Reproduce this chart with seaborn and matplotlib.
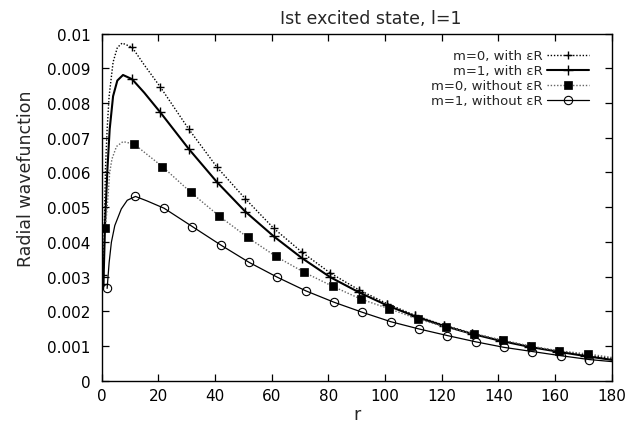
import numpy as np
import matplotlib
matplotlib.use('Agg')
import matplotlib.pyplot as plt
import seaborn as sns

# values, wavefunction in units of 1e-3
r_m0_with = [0.6, 1.3, 1.9, 2.6, 4.0, 5.5, 7.2, 10.7, 15, 20.7, 30.7, 40.7, 50.7, 60.7, 70.7,
             80.7, 90.7, 100.7, 110.7, 120.7, 130.7, 140.7, 150.7, 160.7, 170.7, 180]
v_m0_with = [3.05, 6.1, 7.25, 8.2, 9.18, 9.6, 9.73, 9.61, 9.1, 8.46, 7.25, 6.15, 5.24, 4.39, 3.70,
             3.10, 2.62, 2.22, 1.88, 1.60, 1.37, 1.17, 1.00, 0.86, 0.74, 0.64]

r_m1_with = [0.6, 1.2, 2.0, 2.8, 4.0, 5.5, 7.5, 10.7, 15, 20.7, 30.7, 40.7, 50.7, 60.7, 70.7,
             80.7, 90.7, 100.7, 110.7, 120.7, 130.7, 140.7, 150.7, 160.7, 170.7, 180]
v_m1_with = [2.8, 4.6, 6.1, 7.25, 8.2, 8.65, 8.81, 8.69, 8.3, 7.73, 6.68, 5.72, 4.87, 4.16, 3.53,
             2.98, 2.55, 2.17, 1.85, 1.58, 1.35, 1.15, 0.98, 0.84, 0.71, 0.60]
plus_marks = [0.6, 10.7, 20.7, 30.7, 40.7, 50.7, 60.7, 70.7, 80.7, 90.7,
              100.7, 110.7, 120.7, 130.7, 140.7, 150.7, 160.7, 170.7]

r_m0_without = [1.3, 2.2, 2.8, 3.6, 5.2, 7.5, 11.4, 16, 21.4, 31.4, 41.5, 51.5, 61.5, 71.5,
                81.5, 91.5, 101.5, 111.5, 121.5, 131.5, 141.5, 151.5, 161.5, 171.5, 180]
v_m0_without = [4.39, 5.3, 6.0, 6.39, 6.75, 6.89, 6.82, 6.52, 6.17, 5.43, 4.74, 4.13, 3.58, 3.12,
                2.72, 2.35, 2.07, 1.78, 1.54, 1.35, 1.17, 0.99, 0.86, 0.77, 0.67]
square_marks = [1.3, 11.4, 21.4, 31.4, 41.5, 51.5, 61.5, 71.5, 81.5, 91.5,
                101.5, 111.5, 121.5, 131.5, 141.5, 151.5, 161.5, 171.5]

r_m1_without = [1.9, 2.6, 3.4, 4.6, 6.9, 9.0, 11.9, 16, 22, 32, 42, 52, 62, 72,
                82, 92, 102, 112, 122, 132, 142, 152, 162, 172, 180]
v_m1_without = [2.66, 3.4, 3.99, 4.47, 4.95, 5.2, 5.31, 5.18, 4.97, 4.44, 3.91, 3.41, 2.98, 2.59,
                2.26, 1.97, 1.70, 1.49, 1.30, 1.12, 0.96, 0.84, 0.72, 0.61, 0.55]
circle_marks = [1.9, 11.9, 22, 32, 42, 52, 62, 72, 82, 92, 102, 112, 122, 132, 142, 152, 162, 172]

labels = ['m=0, with εR', 'm=1, with εR', 'm=0, without εR', 'm=1, without εR']
x_ticks = [0, 20, 40, 60, 80, 100, 120, 140, 160, 180]
y_ticks = [0, 0.001, 0.002, 0.003, 0.004, 0.005, 0.006, 0.007, 0.008, 0.009, 0.01]
y_tick_labels = ['0', '0.001', '0.002', '0.003', '0.004', '0.005', '0.006',
                 '0.007', '0.008', '0.009', '0.01']

sns.set_style('ticks')
plt.rcParams['font.family'] = ['DejaVu Sans']

fig = plt.figure(figsize=(6.44, 4.31), dpi=100)
ax = fig.add_axes([0.158, 0.1144, 0.792, 0.8051])

series = [
    (r_m0_with, v_m0_with, plus_marks,
     dict(color='black', lw=1.0, ls=(0, (1, 1.3)), marker='+', ms=6, mew=1.0,
          mec='black')),
    (r_m1_with, v_m1_with, plus_marks,
     dict(color='black', lw=1.5, ls='-', marker='+', ms=7.5, mew=1.0, mec='black')),
    (r_m0_without, v_m0_without, square_marks,
     dict(color='#666666', lw=1.0, ls=(0, (1, 1.3)), marker='s', ms=6,
          mfc='black', mec='black', mew=0.5)),
    (r_m1_without, v_m1_without, circle_marks,
     dict(color='black', lw=0.9, ls='-', marker='o', ms=6, mfc='none', mew=0.8,
          mec='black')),
]

for (r, v, marks, style), lab in zip(series, labels):
    r = np.array(r)
    idx = list(np.where(np.isin(r, marks))[0])
    sns.lineplot(x=r, y=np.array(v) * 1e-3, ax=ax, sort=False, estimator=None,
                 errorbar=None, label=lab, markevery=idx, **style)

ax.set_xlim(0, 180)
ax.set_ylim(0, 0.01)
ax.set_xticks(x_ticks)
ax.set_yticks(y_ticks)
ax.set_yticklabels(y_tick_labels)
ax.tick_params(direction='in', length=5, width=0.9, top=True, right=True,
               labelsize=11, colors='black')
ax.tick_params(axis='y', pad=8)
ax.tick_params(axis='x', pad=5)
for s in ax.spines.values():
    s.set_visible(True)
    s.set_linewidth(1.0)
    s.set_color('black')

ax.set_xlabel('r', fontsize=12.5, labelpad=2)
ax.set_ylabel('Radial wavefunction', fontsize=12.5)
ax.yaxis.set_label_coords(-0.13, 0.584)
ax.set_title('Ist excited state, l=1', fontsize=12.5, x=0.528, pad=8)

leg = ax.legend(loc='upper right', bbox_to_anchor=(0.955, 0.955), frameon=False,
                markerfirst=False, fontsize=9.5, handlelength=3.2, handletextpad=0.3,
                labelspacing=0.15, borderpad=0, borderaxespad=0)

fig.savefig('out.png', dpi=100, facecolor='white')
